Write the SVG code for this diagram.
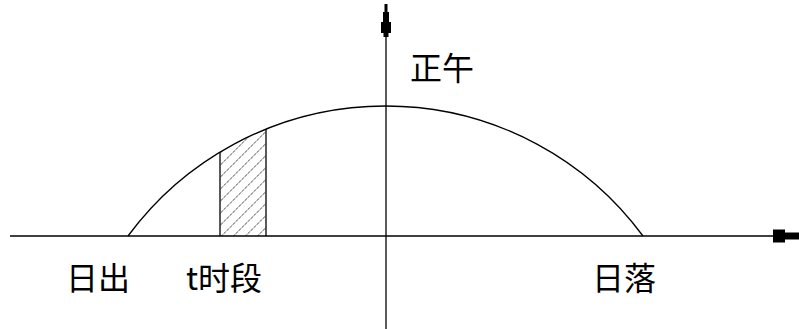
<svg xmlns="http://www.w3.org/2000/svg" width="799" height="329" viewBox="0 0 799 329">
<style>
.ln{stroke:#000;stroke-width:1.3;fill:none}
.t{font-family:"Noto Sans CJK SC","Liberation Sans",sans-serif;font-size:32px;fill:#000}
</style>
<defs>
<pattern id="hatch" patternUnits="userSpaceOnUse" width="8.5" height="8.5" patternTransform="rotate(45)">
<line x1="0" y1="0" x2="0" y2="8.5" stroke="#000" stroke-width="1.1" stroke-dasharray="3,1"/>
</pattern>
<clipPath id="cp"><path d="M220,236 L220,152.4 A320,320 0 0 1 266,129 L266,236 Z"/></clipPath>
</defs>
<g id="connectors">
<line class="ln" x1="10" y1="236" x2="780" y2="236"/>
<path d="M773,229.5 L785,229.5 L785,232.5 L799,232.5 L799,239.5 L785,239.5 L785,242.5 L773,242.5 Z" fill="#000"/>
<line class="ln" x1="386" y1="30" x2="386" y2="329"/>
<path d="M384.5,4 H387.5 V12 H389 V22 H391 V33 H388.5 V37 H383.5 V33 H381 V22 H383 V12 H384.5 Z" fill="#000"/>
</g>
<g id="curve">
<path class="ln" d="M128,236 A320,320 0 0 1 643,236"/>
</g>
<g id="shade">
<rect x="220" y="100" width="46" height="136" fill="url(#hatch)" clip-path="url(#cp)"/>
<line class="ln" x1="220" y1="152.4" x2="220" y2="236" stroke-width="1.6"/>
<line class="ln" x1="266" y1="129" x2="266" y2="236" stroke-width="1.6"/>
</g>
<g id="noon"><text class="t" x="410" y="80">正午</text></g>
<g id="sunrise"><text class="t" x="66" y="290">日出</text></g>
<g id="period"><text class="t" x="186" y="290">t时段</text></g>
<g id="sunset"><text class="t" x="592" y="290">日落</text></g>
</svg>
